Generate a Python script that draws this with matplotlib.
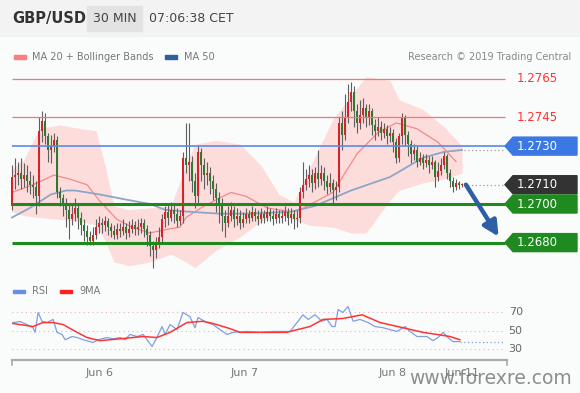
import matplotlib.pyplot as plt
from matplotlib.patches import Polygon, Rectangle

# ---- price data (30 min bars) ----
first_open = 1.2699
closes = [1.2714, 1.2715, 1.2716, 1.2713, 1.2715, 1.2712, 1.2710, 1.2709, 1.2704, 1.2738,
          1.2743, 1.2735, 1.2728, 1.2730, 1.2733, 1.2706, 1.2703, 1.2700, 1.2697, 1.2692,
          1.2695, 1.2698, 1.2693, 1.2689, 1.2686, 1.2683, 1.2681, 1.2684, 1.2688, 1.2690,
          1.2689, 1.2691, 1.2688, 1.2686, 1.2684, 1.2687, 1.2686, 1.2688, 1.2685, 1.2687,
          1.2689, 1.2687, 1.2688, 1.2690, 1.2687, 1.2684, 1.2678, 1.2676, 1.2679, 1.2683,
          1.2692, 1.2696, 1.2693, 1.2697, 1.2695, 1.2691, 1.2694, 1.2724, 1.2720, 1.2722,
          1.2712, 1.2704, 1.2727, 1.2720, 1.2715, 1.2716, 1.2712, 1.2708, 1.2703, 1.2700,
          1.2694, 1.2690, 1.2694, 1.2697, 1.2692, 1.2694, 1.2690, 1.2692, 1.2695, 1.2693,
          1.2696, 1.2694, 1.2692, 1.2695, 1.2693, 1.2696, 1.2694, 1.2692, 1.2695, 1.2693,
          1.2694, 1.2696, 1.2693, 1.2695, 1.2692, 1.2693, 1.2706, 1.2710, 1.2713, 1.2715,
          1.2711, 1.2716, 1.2713, 1.2716, 1.2712, 1.2709, 1.2711, 1.2707, 1.2709, 1.2742,
          1.2736, 1.2745, 1.2753, 1.2758, 1.2748, 1.2742, 1.2746, 1.2750, 1.2745, 1.2748,
          1.2741, 1.2738, 1.2740, 1.2737, 1.2739, 1.2735, 1.2737, 1.2732, 1.2724, 1.2735,
          1.2745, 1.2736, 1.2731, 1.2726, 1.2728, 1.2722, 1.2724, 1.2721, 1.2723, 1.2720,
          1.2722, 1.2714, 1.2717, 1.2720, 1.2725, 1.2716, 1.2712, 1.2709, 1.2711, 1.2710,
          1.2710]
highs = [1.2720, 1.2724, 1.2722, 1.2724, 1.2721, 1.2720, 1.2717, 1.2715, 1.2712, 1.2745,
         1.2748, 1.2747, 1.2737, 1.2736, 1.2737, 1.2735, 1.2709, 1.2705, 1.2703, 1.2700,
         1.2700, 1.2703, 1.2700, 1.2696, 1.2692, 1.2689, 1.2686, 1.2688, 1.2692, 1.2694,
         1.2693, 1.2694, 1.2693, 1.2690, 1.2689, 1.2690, 1.2690, 1.2692, 1.2690, 1.2691,
         1.2692, 1.2691, 1.2692, 1.2693, 1.2692, 1.2689, 1.2686, 1.2681, 1.2683, 1.2688,
         1.2695, 1.2699, 1.2700, 1.2701, 1.2700, 1.2698, 1.2697, 1.2727, 1.2742, 1.2742,
         1.2725, 1.2716, 1.2730, 1.2729, 1.2724, 1.2722, 1.2719, 1.2715, 1.2711, 1.2706,
         1.2703, 1.2697, 1.2699, 1.2701, 1.2699, 1.2698, 1.2697, 1.2696, 1.2698, 1.2697,
         1.2699, 1.2698, 1.2697, 1.2698, 1.2697, 1.2699, 1.2698, 1.2697, 1.2698, 1.2697,
         1.2697, 1.2699, 1.2698, 1.2698, 1.2697, 1.2697, 1.2709, 1.2722, 1.2718, 1.2720,
         1.2718, 1.2719, 1.2728, 1.2720, 1.2719, 1.2715, 1.2716, 1.2713, 1.2712, 1.2745,
         1.2748, 1.2757, 1.2762, 1.2763, 1.2761, 1.2752, 1.2754, 1.2755, 1.2752, 1.2752,
         1.2750, 1.2744, 1.2745, 1.2743, 1.2742, 1.2741, 1.2740, 1.2739, 1.2734, 1.2737,
         1.2747, 1.2746, 1.2738, 1.2733, 1.2731, 1.2730, 1.2727, 1.2726, 1.2726, 1.2725,
         1.2725, 1.2723, 1.2722, 1.2724, 1.2727, 1.2726, 1.2718, 1.2714, 1.2713, 1.2712,
         1.2711]
lows = [1.2697, 1.2708, 1.2710, 1.2708, 1.2709, 1.2706, 1.2705, 1.2703, 1.2695, 1.2699,
        1.2732, 1.2731, 1.2722, 1.2721, 1.2727, 1.2703, 1.2699, 1.2694, 1.2688, 1.2682,
        1.2689, 1.2691, 1.2687, 1.2684, 1.2681, 1.2679, 1.2679, 1.2679, 1.2682, 1.2685,
        1.2685, 1.2686, 1.2684, 1.2683, 1.2682, 1.2682, 1.2683, 1.2684, 1.2682, 1.2683,
        1.2685, 1.2684, 1.2684, 1.2685, 1.2683, 1.2678, 1.2673, 1.2667, 1.2672, 1.2677,
        1.2680, 1.2688, 1.2689, 1.2691, 1.2690, 1.2688, 1.2689, 1.2690, 1.2716, 1.2712,
        1.2706, 1.2698, 1.2700, 1.2712, 1.2708, 1.2710, 1.2705, 1.2702, 1.2696, 1.2690,
        1.2686, 1.2683, 1.2688, 1.2691, 1.2688, 1.2689, 1.2687, 1.2688, 1.2690, 1.2690,
        1.2691, 1.2691, 1.2689, 1.2690, 1.2690, 1.2691, 1.2691, 1.2689, 1.2690, 1.2690,
        1.2690, 1.2691, 1.2689, 1.2690, 1.2687, 1.2688, 1.2690, 1.2703, 1.2707, 1.2709,
        1.2706, 1.2708, 1.2709, 1.2710, 1.2707, 1.2705, 1.2706, 1.2700, 1.2702, 1.2706,
        1.2728, 1.2733, 1.2742, 1.2748, 1.2740, 1.2737, 1.2739, 1.2742, 1.2740, 1.2741,
        1.2736, 1.2733, 1.2735, 1.2733, 1.2734, 1.2731, 1.2732, 1.2727, 1.2721, 1.2722,
        1.2731, 1.2730, 1.2725, 1.2721, 1.2723, 1.2719, 1.2720, 1.2718, 1.2719, 1.2716,
        1.2718, 1.2709, 1.2712, 1.2715, 1.2718, 1.2713, 1.2709, 1.2706, 1.2707, 1.2708,
        1.2709]

# moving averages and Bollinger bands, sampled along the bars
ma20_bar = [0, 7, 14, 19, 25, 29, 35, 40, 46, 52, 56, 58, 63, 69, 73, 78, 85, 93, 96,
            107, 115, 122, 128, 135, 142, 148]
ma20 = [1.2706, 1.2710, 1.2715, 1.2713, 1.2710, 1.2702, 1.2692, 1.2688, 1.2685, 1.2687,
        1.2688, 1.2693, 1.2698, 1.2703, 1.2706, 1.2704, 1.2698, 1.2696, 1.2697, 1.2706,
        1.2726, 1.2737, 1.2742, 1.2739, 1.2732, 1.2722]
ma50_bar = [0, 6, 13, 18, 21, 29, 39, 46, 51, 59, 69, 79, 93, 101, 104, 113, 126, 137,
            144, 150]
ma50 = [1.2693, 1.2698, 1.2705, 1.2707, 1.2707, 1.2705, 1.2702, 1.2700, 1.2697, 1.2696,
        1.2695, 1.2695, 1.2696, 1.2699, 1.2701, 1.2707, 1.2714, 1.2724, 1.2727, 1.2728]
band_bar = [0, 4, 9, 16, 23, 28, 31, 34, 39, 46, 53, 58, 61, 68, 76, 83, 89, 94, 99,
            107, 113, 118, 126, 129, 137, 144, 150]
band_upper = [1.2718, 1.2723, 1.2739, 1.2741, 1.2739, 1.2738, 1.2720, 1.2699, 1.2697,
              1.2698, 1.2699, 1.2720, 1.2731, 1.2733, 1.2731, 1.2720, 1.2705, 1.2701,
              1.2718, 1.2744, 1.2756, 1.2766, 1.2764, 1.2754, 1.2749, 1.2740, 1.2730]
band_lower = [1.2696, 1.2694, 1.2693, 1.2692, 1.2691, 1.2689, 1.2681, 1.2670, 1.2668,
              1.2670, 1.2674, 1.2670, 1.2667, 1.2676, 1.2683, 1.2691, 1.2695, 1.2692,
              1.2689, 1.2688, 1.2685, 1.2685, 1.2702, 1.2707, 1.2711, 1.2713, 1.2716]

# RSI panel
rsi_bar = [0.3, 2.7, 5, 7, 7.7, 8.7, 10, 11.7, 13.7, 15, 16.7, 17.7, 20, 21.7, 23.7, 26,
           27, 28.7, 31.7, 33.7, 36, 37.7, 39.3, 41.7, 43.7, 46.7, 48.3, 50, 51, 52.7,
           55, 57, 59.3, 61, 62, 65, 67, 69.3, 71.7, 73.7, 78.3, 82.7, 87, 91.7, 92.7,
           95, 97, 98.7, 101, 103.3, 105, 106.7, 107.7, 108.7, 110.3, 112, 113.7, 116,
           118.7, 121, 123.7, 126, 128.3, 131, 132.7, 135, 138.3, 140.3, 142, 143.7,
           145.3, 147, 149.3]
rsi = [58.6, 59.7, 56.5, 53, 48, 69.5, 60, 58.6, 62, 48, 45.7, 40, 43.5, 42.4, 40, 38,
       37, 40, 42.4, 41, 42.4, 40, 45.7, 43.5, 45.7, 32.7, 42.4, 54.3, 45.7, 56.5,
       51, 69.5, 65, 53, 64, 58.6, 56.5, 51, 45.7, 48, 49, 48, 49, 49, 49,
       58.6, 67, 62, 67, 60, 62, 54.3, 54.3, 72.7, 69.5, 76, 60, 62, 58.6, 54.3,
       53, 51, 49, 54.3, 49, 43.5, 43.5, 39, 42.4, 48, 42.4, 38, 38]
rsi_ma_bar = [0.3, 7, 10.3, 13.7, 17, 21.7, 25, 29.3, 36, 43.7, 48.3, 52.7, 58.3, 63.7,
              67, 72.7, 76, 82.7, 91.7, 92.7, 99.3, 103.7, 110.3, 116.7, 122.7, 130.3,
              137, 141.7, 146, 149.3]
rsi_ma = [57.6, 54.3, 58.6, 58.6, 56.5, 48, 42.4, 39, 41, 43.5, 42.4, 48, 58.6, 60,
          57.6, 52, 48, 48, 48, 49, 54.3, 62, 63, 67, 58.6, 53, 48, 45.7, 43.5, 40]
rsi_levels = [70, 50, 30]

# analyst levels
resistances = [1.2765, 1.2745]
pivot = 1.2730
supports = [1.2700, 1.2680]
target = 1.2680

day_labels = ['Jun 6', 'Jun 7', 'Jun 8', 'Jun 11']
day_bars = [29.3, 77.7, 127, 150]

# ---- layout helpers (pixel -> figure fraction) ----
W, H = 580, 393
def fx(px):
    return px / W
def fy(py):
    return 1 - py / H

fig = plt.figure(figsize=(5.8, 3.93), dpi=100, facecolor='#fafbfb')
fig.patches.append(Rectangle((0, fy(36)), 1, 1 - fy(36), transform=fig.transFigure,
                             color='#f3f3f3', zorder=0))

# header
fig.text(fx(12), fy(19), 'GBP/USD', fontsize=10.5, fontweight='bold', color='#333333',
         va='center')
fig.patches.append(Rectangle((fx(87), fy(31)), fx(55), fy(6) - fy(31),
                             transform=fig.transFigure, color='#e3e3e3', zorder=1))
fig.text(fx(114.5), fy(19), '30 MIN', fontsize=9, color='#444444', va='center',
         ha='center')
fig.text(fx(149), fy(19), '07:06:38 CET', fontsize=9, color='#444444', va='center')

# legend row
fig.patches.append(Rectangle((fx(14), fy(58.5)), fx(12), fy(55) - fy(58.5),
                             transform=fig.transFigure, color='#ff7c7c'))
fig.text(fx(32), fy(56.5), 'MA 20 + Bollinger Bands', fontsize=7, color='#777777',
         va='center')
fig.patches.append(Rectangle((fx(165), fy(58.5)), fx(12), fy(55) - fy(58.5),
                             transform=fig.transFigure, color='#2f5f9f'))
fig.text(fx(184), fy(56.5), 'MA 50', fontsize=7, color='#777777', va='center')
fig.text(fx(571), fy(56.5), 'Research \u00a9 2019 Trading Central', fontsize=7,
         color='#888888', va='center', ha='right')

# ---- main price panel ----
ax = fig.add_axes([fx(10), fy(270), fx(577) - fx(10), fy(67) - fy(270)])
x_lo, x_hi = -2 / 3, 565 / 3
x_end = 493 / 3                      # right edge of the plot area (before labels)
ax.set_xlim(x_lo, x_hi)
ax.set_ylim(1.26658, 1.27710)
ax.axis('off')

px_y = (1.27710 - 1.26658) / 203     # price per pixel

ax.fill_between(band_bar, band_lower, band_upper, color='#fddcdc', lw=0, zorder=1)
ax.plot(ma20_bar, ma20, color='#f28a8a', lw=0.9, zorder=2)
ax.plot(ma50_bar, ma50, color='#8da6c6', lw=1.3, zorder=2)

n = len(closes)
opens = [first_open] + closes[:-1]
xs = list(range(n))
bottoms = [min(o, c) for o, c in zip(opens, closes)]
heights = [max(abs(c - o), 0.00006) for o, c in zip(opens, closes)]
colors = ['#d6232b' if c >= o else '#2e7a2e' for o, c in zip(opens, closes)]
ax.vlines(xs, lows, highs, color='#5e5e5e', lw=0.8, zorder=3)
ax.bar(xs, heights, bottom=bottoms, width=0.75, color=colors, zorder=4)

ax.hlines(resistances, 0, x_end, color='#ff7070', lw=0.9, zorder=5)
ax.hlines(pivot, 0, x_end, color='#5a8ae8', lw=1.2, zorder=5)
ax.hlines(supports, 0, x_end, color='#1e8a1e', lw=2.2, zorder=5)
ax.hlines([closes[-1], ma50[-1]], n - 0.5, x_end, color='#9a9a9a', lw=0.9,
          linestyles=(0, (1, 2)), zorder=5)

tip = 8 / 3
hh = 9 * px_y
def tag(level, color):
    pts = [(x_end, level), (x_end + tip, level + hh), (x_hi, level + hh),
           (x_hi, level - hh), (x_end + tip, level - hh)]
    ax.add_patch(Polygon(pts, closed=True, color=color, zorder=6, clip_on=False))
    ax.text(x_end + 4, level, f'{level:.4f}', color='white', fontsize=8.5,
            va='center', zorder=7, clip_on=False)

for lvl in resistances:
    ax.text(x_end + 4, lvl, f'{lvl:.4f}', color='#ff3333', fontsize=8.5, va='center')
tag(pivot, '#3b78e3')
tag(closes[-1], '#333333')
for lvl in supports:
    tag(lvl, '#1f8a1f')

ax.annotate('', xy=(n - 1 + 12.2, target + 6 * px_y), xytext=(n - 1 + 1.3, closes[-1]),
            arrowprops=dict(arrowstyle='-|>,head_width=0.45,head_length=0.9',
                            color='#2d5ea6', lw=3.2, shrinkA=0, shrinkB=0), zorder=8)

# ---- RSI panel ----
ar = fig.add_axes([fx(10), fy(360), fx(577) - fx(10), fy(300) - fy(360)])
ar.set_xlim(x_lo, x_hi)
ar.set_ylim(18.1, 83)
ar.axis('off')
ar.hlines(rsi_levels, 0, x_end, color='#e2b4b4', lw=0.8, linestyles=(0, (1, 3)))
for lvl in rsi_levels:
    ar.text(x_end + 1.2, lvl, str(lvl), color='#666666', fontsize=8, va='center')
ar.plot(rsi_bar, rsi, color='#7f9fe3', lw=0.9)
ar.plot(rsi_ma_bar, rsi_ma, color='#ff3434', lw=1.1)
ar.hlines(rsi[-1], rsi_bar[-1], x_end, color='#7f9fe3', lw=0.9,
          linestyles=(0, (1, 2)))

tr = ar.get_xaxis_transform()
ar.plot([x_lo + 0.6, x_end + 0.7], [0, 0], color='#aaaaaa', lw=1.6, transform=tr,
        clip_on=False)
for xe in [x_lo + 0.6, x_end + 0.7]:
    ar.plot([xe, xe], [0, -0.09], color='#aaaaaa', lw=1.2, transform=tr, clip_on=False)
for lab, b in zip(day_labels, day_bars):
    ar.text(b, -0.22, lab, color='#777777', fontsize=8, ha='center', va='center',
            transform=tr, clip_on=False)

# RSI legend
fig.patches.append(Rectangle((fx(13), fy(293)), fx(12), fy(289.5) - fy(293),
                             transform=fig.transFigure, color='#6a8fe0'))
fig.text(fx(32), fy(291), 'RSI', fontsize=7, color='#777777', va='center')
fig.patches.append(Rectangle((fx(60), fy(293)), fx(12), fy(289.5) - fy(293),
                             transform=fig.transFigure, color='#ff2020'))
fig.text(fx(79), fy(291), '9MA', fontsize=7, color='#777777', va='center')

# watermark (overlaps the last date label, as in the original)
fig.text(fx(572), fy(378), 'www.forexre.com', fontsize=13.5, color='#7a7a7a',
         ha='right', va='center', alpha=0.85)

fig.savefig('out.png', dpi=100, facecolor=fig.get_facecolor())
